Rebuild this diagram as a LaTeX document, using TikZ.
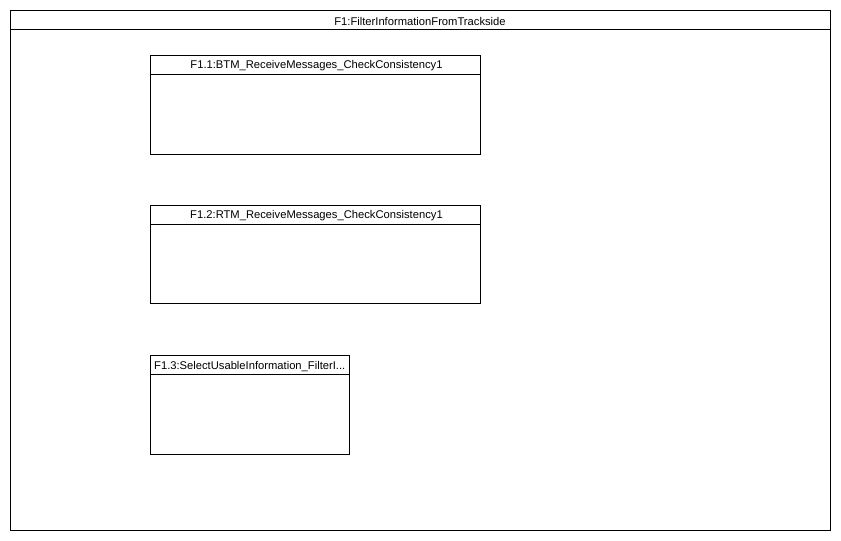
\documentclass[tikz,border=0pt]{standalone}
\usepackage{fontspec}
\setmainfont{Liberation Sans}
\begin{document}
\begin{tikzpicture}[x=1pt,y=-1pt,line width=0.9pt,
  frame/.style={draw=black},
  titletext/.style={font=\fontsize{11.2}{13}\selectfont,inner sep=0pt,anchor=center}]
\useasboundingbox[fill=white] (0,0) rectangle (841,541);
% outer block
\draw[frame] (10,10) rectangle (830,530);
\draw[frame] (10,29.5) -- (830,29.5);
\node[titletext] (t0) at (420,21) {F1:FilterInformationFromTrackside};
% F1.1
\draw[frame] (150,55) rectangle (480,154);
\draw[frame] (150,74) -- (480,74);
\node[titletext] (t1) at (316.5,66) {F1.1:BTM\_ReceiveMessages\_CheckConsistency1};
% F1.2
\draw[frame] (150,205) rectangle (480,303.5);
\draw[frame] (150,224) -- (480,224);
\node[titletext] (t2) at (316.5,216) {F1.2:RTM\_ReceiveMessages\_CheckConsistency1};
% F1.3
\draw[frame] (150,355) rectangle (349.5,454);
\draw[frame] (150,374) -- (349.5,374);
\node[titletext] (t3) at (249.75,366.5) {F1.3:SelectUsableInformation\_FilterI...};
\end{tikzpicture}
\end{document}
